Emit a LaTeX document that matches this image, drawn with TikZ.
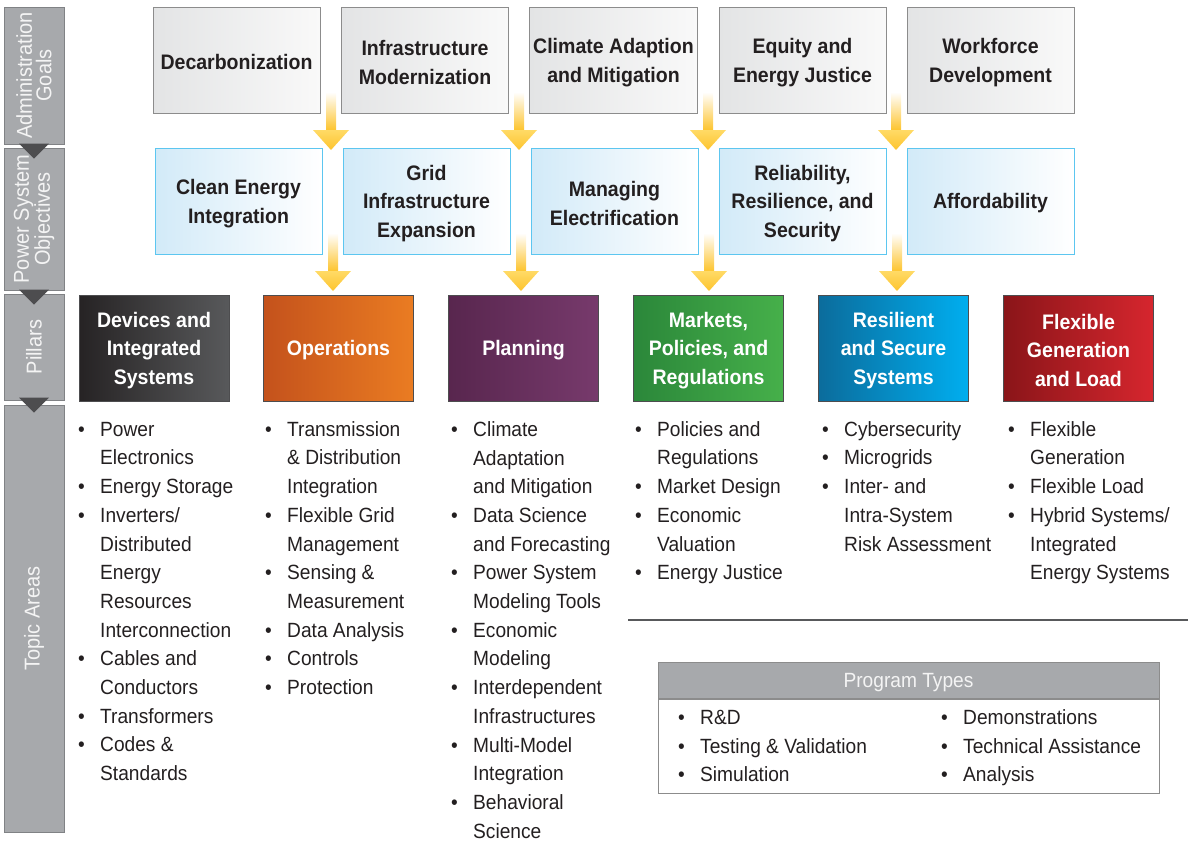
\documentclass[tikz,border=0pt]{standalone}
\usepackage{fontspec}
\setmainfont{Liberation Sans}[FakeStretch=0.93]
\usetikzlibrary{calc}

\definecolor{ink}{HTML}{231F20}
\definecolor{barfill}{HTML}{A7A9AC}
\definecolor{barline}{HTML}{808285}
\definecolor{bartext}{HTML}{F4F4F4}
\definecolor{markgray}{HTML}{4D4D4F}
\definecolor{goalleft}{HTML}{E3E4E5}
\definecolor{goalright}{HTML}{F9F9F9}
\definecolor{goalline}{HTML}{8C8C8C}
\definecolor{objleft}{HTML}{D2EAF8}
\definecolor{objline}{HTML}{5CC6F0}
\definecolor{pilline}{HTML}{4D4D4F}
\definecolor{devleft}{HTML}{262324}
\definecolor{devright}{HTML}{58595B}
\definecolor{opsleft}{HTML}{C4521C}
\definecolor{opsright}{HTML}{EA7C22}
\definecolor{planleft}{HTML}{58264E}
\definecolor{planright}{HTML}{773A6C}
\definecolor{mktleft}{HTML}{2B873A}
\definecolor{mktright}{HTML}{46B04A}
\definecolor{resleft}{HTML}{0B6C9C}
\definecolor{resright}{HTML}{00AEEF}
\definecolor{flexleft}{HTML}{8A1519}
\definecolor{flexright}{HTML}{D6262E}
\definecolor{gold}{HTML}{FDC42E}
\definecolor{goldlight}{HTML}{FFDA66}
\definecolor{rulegray}{HTML}{58595B}

\newcommand\boxfont{\fontsize{21}{28.5}\selectfont\bfseries}
\newcommand\listfont{\fontsize{20.6}{28.7}\selectfont}
\newcommand\barfont{\fontsize{21.5}{19.5}\selectfont}
\newcommand\boxstrut{\rule{0pt}{20pt}}

\newcommand\goldarrow[2]{%
  \shade[top color=white, bottom color=gold] ($(#1)+(-5,0)$) rectangle ($(#2)+(5,-20)$);
  \shade[top color=goldlight, bottom color=gold] ($(#2)+(-18,-20)$) -- ($(#2)+(18,-20)$) -- (#2) -- cycle;}

\tikzset{
    bar/.style={draw=barline, fill=barfill, line width=1pt, rotate=90, minimum height=60pt,
        inner sep=0pt, align=center, text=bartext, font=\barfont},
    goal/.style={draw=goalline, line width=1pt, left color=goalleft, right color=goalright,
        minimum width=167pt, minimum height=106pt, align=center, text=ink, font=\boxfont},
    objective/.style={draw=objline, line width=1pt, left color=objleft, right color=white,
        minimum width=167pt, minimum height=106pt, align=center, text=ink, font=\boxfont},
    pillar/.style={draw=pilline, line width=1pt, minimum width=150pt, minimum height=106pt,
        align=center, text=white, font=\boxfont},
    topic/.style={anchor=north west, inner sep=0pt, text=ink, font=\listfont},
    marker/.style={fill=markgray}
}

\begin{document}
\begin{tikzpicture}[x=1pt, y=-1pt]

    \useasboundingbox (0,0) rectangle (1188,841);

    \node[bar, minimum width=137pt] (bar1) at (34,75.5) {Administration\\Goals};
    \node[bar, minimum width=142pt] (bar2) at (34,219) {Power System\\Objectives};
    \node[bar, minimum width=106pt] (bar3) at (34,347) {Pillars};
    \node[bar, minimum width=427pt] (bar4) at (34,618.5) {Topic Areas};

    \fill[marker] ($(bar1.west)+(-15,-1)$) -- ($(bar1.west)+(15,-1)$) -- ($(bar1.west)+(0,14)$) -- cycle;
    \fill[marker] ($(bar2.west)+(-15,-1)$) -- ($(bar2.west)+(15,-1)$) -- ($(bar2.west)+(0,14)$) -- cycle;
    \fill[marker] ($(bar3.west)+(-15,-3)$) -- ($(bar3.west)+(15,-3)$) -- ($(bar3.west)+(0,12)$) -- cycle;

    \node[goal] (goal1) at (236.5,60) {\boxstrut Decarbonization};
    \node[goal] (goal2) at (425,60) {\boxstrut Infrastructure\\Modernization};
    \node[goal] (goal3) at (613.5,60) {\boxstrut Climate Adaption\\and Mitigation};
    \node[goal] (goal4) at (802.5,60) {\boxstrut Equity and\\Energy Justice};
    \node[goal] (goal5) at (990.5,60) {\boxstrut Workforce\\Development};

    \node[objective] (obj1) at (238.5,201) {\boxstrut Clean Energy\\Integration};
    \node[objective] (obj2) at (426.5,201) {\boxstrut Grid\\Infrastructure\\Expansion};
    \node[objective] (obj3) at (614.5,201) {\boxstrut Managing\\Electrification};
    \node[objective] (obj4) at (802.5,201) {\boxstrut Reliability,\\Resilience, and\\Security};
    \node[objective] (obj5) at (990.5,201) {\boxstrut Affordability};

    \node[pillar, left color=devleft, right color=devright] (pil1) at (154,348) {\boxstrut Devices and\\Integrated\\Systems};
    \node[pillar, left color=opsleft, right color=opsright] (pil2) at (338.5,348) {\boxstrut Operations};
    \node[pillar, left color=planleft, right color=planright] (pil3) at (523.5,348) {\boxstrut Planning};
    \node[pillar, left color=mktleft, right color=mktright] (pil4) at (708.5,348) {\boxstrut Markets,\\Policies, and\\Regulations};
    \node[pillar, left color=resleft, right color=resright] (pil5) at (893.5,348) {\boxstrut Resilient\\and Secure\\Systems};
    \node[pillar, left color=flexleft, right color=flexright] (pil6) at (1078.5,348) {\boxstrut Flexible\\Generation\\and Load};

    \coordinate (a1s) at (331,92);  \coordinate (a1e) at (331,150);
    \coordinate (a2s) at (519,92);  \coordinate (a2e) at (519,150);
    \coordinate (a3s) at (708,92);  \coordinate (a3e) at (708,150);
    \coordinate (a4s) at (896,92);  \coordinate (a4e) at (896,150);
    \coordinate (b1s) at (333,233); \coordinate (b1e) at (333,291);
    \coordinate (b2s) at (521,233); \coordinate (b2e) at (521,291);
    \coordinate (b3s) at (709,233); \coordinate (b3e) at (709,291);
    \coordinate (b4s) at (897,233); \coordinate (b4e) at (897,291);

    \goldarrow{a1s}{a1e}
    \goldarrow{a2s}{a2e}
    \goldarrow{a3s}{a3e}
    \goldarrow{a4s}{a4e}
    \goldarrow{b1s}{b1e}
    \goldarrow{b2s}{b2e}
    \goldarrow{b3s}{b3e}
    \goldarrow{b4s}{b4e}

    \node[topic] (top1) at (78,416) {\begin{tabular}{@{}p{22pt}@{}l@{}}
        \textbullet & Power\\ & Electronics\\
        \textbullet & Energy Storage\\
        \textbullet & Inverters/\\ & Distributed\\ & Energy\\ & Resources\\ & Interconnection\\
        \textbullet & Cables and\\ & Conductors\\
        \textbullet & Transformers\\
        \textbullet & Codes \&\\ & Standards
    \end{tabular}};
    \node[topic] (top2) at (265,416) {\begin{tabular}{@{}p{22pt}@{}l@{}}
        \textbullet & Transmission\\ & \& Distribution\\ & Integration\\
        \textbullet & Flexible Grid\\ & Management\\
        \textbullet & Sensing \&\\ & Measurement\\
        \textbullet & Data Analysis\\
        \textbullet & Controls\\
        \textbullet & Protection
    \end{tabular}};
    \node[topic] (top3) at (451,416) {\begin{tabular}{@{}p{22pt}@{}l@{}}
        \textbullet & Climate\\ & Adaptation\\ & and Mitigation\\
        \textbullet & Data Science\\ & and Forecasting\\
        \textbullet & Power System\\ & Modeling Tools\\
        \textbullet & Economic\\ & Modeling\\
        \textbullet & Interdependent\\ & Infrastructures\\
        \textbullet & Multi-Model\\ & Integration\\
        \textbullet & Behavioral\\ & Science
    \end{tabular}};
    \node[topic] (top4) at (635,416) {\begin{tabular}{@{}p{22pt}@{}l@{}}
        \textbullet & Policies and\\ & Regulations\\
        \textbullet & Market Design\\
        \textbullet & Economic\\ & Valuation\\
        \textbullet & Energy Justice
    \end{tabular}};
    \node[topic] (top5) at (822,416) {\begin{tabular}{@{}p{22pt}@{}l@{}}
        \textbullet & Cybersecurity\\
        \textbullet & Microgrids\\
        \textbullet & Inter- and\\ & Intra-System\\ & Risk Assessment
    \end{tabular}};
    \node[topic] (top6) at (1008,416) {\begin{tabular}{@{}p{22pt}@{}l@{}}
        \textbullet & Flexible\\ & Generation\\
        \textbullet & Flexible Load\\
        \textbullet & Hybrid Systems/\\ & Integrated\\ & Energy Systems
    \end{tabular}};

    \draw[rulegray, line width=1.5pt] (628,620) -- (1188,620);

    \node[draw=goalline, line width=1pt, fill=barfill, minimum width=501pt, minimum height=36pt,
        text depth=0pt, text=bartext, font=\listfont] (phead) at (908.5,680) {Program Types};
    \node[draw=goalline, line width=1pt, minimum width=501pt, minimum height=94pt, anchor=north] (pbody) at (phead.south) {};
    \node[topic] (prog1) at (678,704) {\begin{tabular}{@{}p{22pt}@{}l@{}}
        \textbullet & R\&D\\
        \textbullet & Testing \& Validation\\
        \textbullet & Simulation
    \end{tabular}};
    \node[topic] (prog2) at (941,704) {\begin{tabular}{@{}p{22pt}@{}l@{}}
        \textbullet & Demonstrations\\
        \textbullet & Technical Assistance\\
        \textbullet & Analysis
    \end{tabular}};

\end{tikzpicture}
\end{document}
